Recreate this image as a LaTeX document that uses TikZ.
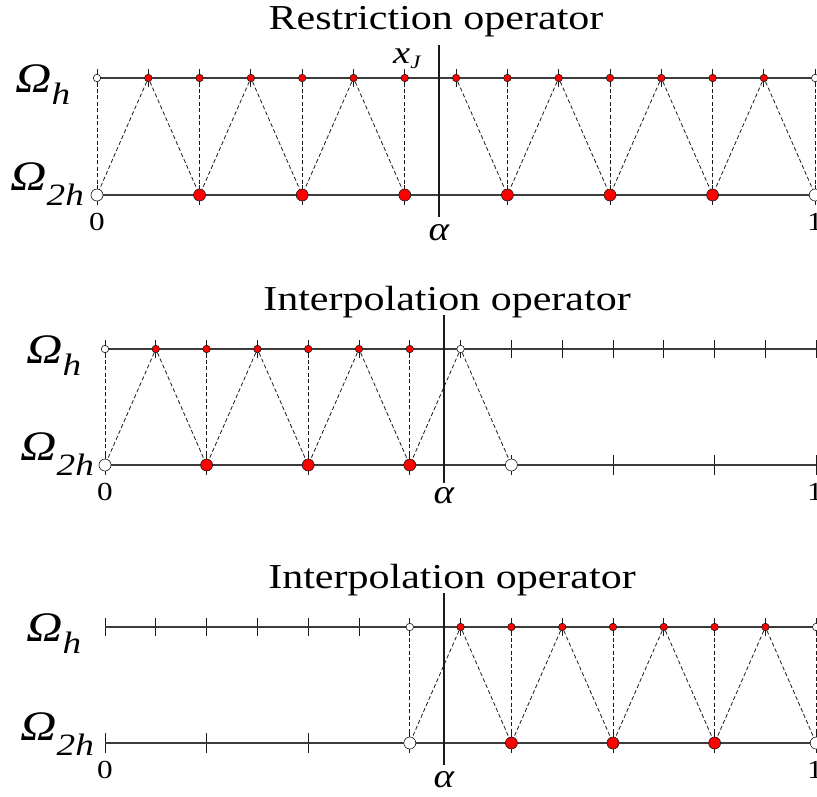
\documentclass[tikz,border=0pt]{standalone}
\usepackage{fontspec}
\setmainfont{Liberation Serif}
\usetikzlibrary{calc}
\definecolor{ink}{HTML}{1A1A1A}
\definecolor{dotred}{HTML}{FF0000}
\tikzset{
  axis/.style={draw=ink!85,line width=1.2pt},
  gridtick/.style={draw=ink,line width=0.9pt},
  ifc/.style={draw=ink,line width=1.5pt},
  link/.style={draw=ink,dash pattern=on 4pt off 2.5pt,line width=0.8pt},
  fdot/.style={circle,draw=ink,line width=0.6pt,fill=dotred,inner sep=0pt,minimum size=7.5pt},
  cdot/.style={circle,draw=ink,line width=0.6pt,fill=dotred,inner sep=0pt,minimum size=12pt},
  fhole/.style={fdot,fill=white},
  chole/.style={cdot,fill=white},
  ttl/.style={font=\fontsize{35}{35}\selectfont,anchor=base,inner sep=0pt,xscale=1.2},
  omlbl/.style={font=\fontsize{42}{42}\selectfont\itshape,anchor=base west,inner sep=0pt,xscale=1.2},
  albl/.style={font=\fontsize{34}{34}\selectfont\itshape,anchor=base,inner sep=0pt,xscale=1.15},
  nlbl/.style={font=\fontsize{26}{26}\selectfont,anchor=base,inner sep=0pt,xscale=1.2}
}
\newcommand{\lowsub}[2]{\raisebox{#1}{\fontsize{31}{31}\selectfont #2}}

\begin{document}
\begin{tikzpicture}[x=1pt,y=-1pt]
  \useasboundingbox (0,0) rectangle (817,796);

  % ---- restriction ----
  \node[ttl] (t1) at (436,29) {Restriction operator};
  \foreach \k in {0,...,14} {
    \coordinate (f1-\k) at ({97+51.3*\k},78);
    \draw[gridtick] ({97+51.3*\k},69) -- ++(0,18);
  }
  \foreach \j in {0,...,7} {
    \coordinate (c1-\j) at ({97+102.6*\j},195);
    \draw[gridtick] ({97+102.6*\j},185) -- ++(0,20);
  }
  \draw[axis] (f1-0) -- (f1-14);
  \draw[axis] (c1-0) -- (c1-7);
  \coordinate (a1top) at (439,45);
  \coordinate (a1bot) at (439,217);
  \draw[ifc] (a1top) -- (a1bot);
  \foreach \k in {1,...,13} \node[fdot] (d1-\k) at (f1-\k) {};
  \node[fhole] (d1-0) at (f1-0) {};
  \node[fhole] (d1-14) at (f1-14) {};
  \foreach \j in {1,...,6} \node[cdot] (e1-\j) at (c1-\j) {};
  \node[chole] (e1-0) at (c1-0) {};
  \node[chole] (e1-7) at (c1-7) {};
  \foreach \j [evaluate=\j as \k using int(2*\j)] in {0,...,7}
    \draw[link] (d1-\k) -- (e1-\j);
  \foreach \k/\l/\r in {1/0/1,3/1/2,5/2/3,9/4/5,11/5/6,13/6/7} {
    \draw[link] (d1-\k) -- (e1-\l);
    \draw[link] (d1-\k) -- (e1-\r);
  }
  \draw[link] (d1-7) -- (e1-4);
  \node[omlbl] (oh1) at (15,92) {Ω\lowsub{-12pt}{h}};
  \node[omlbl] (o2h1) at (10,190) {Ω\lowsub{-15pt}{2h}};
  \node[anchor=base west,inner sep=0pt,xscale=1.2,font=\fontsize{32}{32}\selectfont\itshape] (xj) at (393,63) {x\raisebox{-5pt}{\fontsize{19}{19}\selectfont J}};
  \node[nlbl] (z1) at (97,230) {0};
  \node[nlbl] (u1) at (815,230) {1};
  \node[albl] (al1) at (439,240) {α};

  % ---- interpolation, left part ----
  \node[ttl] (t2) at (447,310) {Interpolation operator};
  \foreach \k in {0,...,14} {
    \coordinate (f2-\k) at ({105+50.8*\k},349);
    \draw[gridtick] ({105+50.8*\k},340) -- ++(0,18);
  }
  \foreach \j in {0,...,7} {
    \coordinate (c2-\j) at ({105+101.6*\j},465);
    \draw[gridtick] ({105+101.6*\j},455) -- ++(0,20);
  }
  \draw[axis] (f2-0) -- (f2-14);
  \draw[axis] (c2-0) -- (c2-7);
  \coordinate (a2top) at (444,315);
  \coordinate (a2bot) at (444,483);
  \draw[ifc] (a2top) -- (a2bot);
  \foreach \k in {1,...,6} \node[fdot] (d2-\k) at (f2-\k) {};
  \node[fhole] (d2-0) at (f2-0) {};
  \node[fhole] (d2-7) at (f2-7) {};
  \foreach \j in {1,...,3} \node[cdot] (e2-\j) at (c2-\j) {};
  \node[chole] (e2-0) at (c2-0) {};
  \node[chole] (e2-4) at (c2-4) {};
  \foreach \j [evaluate=\j as \k using int(2*\j)] in {0,...,3}
    \draw[link] (d2-\k) -- (e2-\j);
  \foreach \k/\l/\r in {1/0/1,3/1/2,5/2/3,7/3/4} {
    \draw[link] (d2-\k) -- (e2-\l);
    \draw[link] (d2-\k) -- (e2-\r);
  }
  \node[omlbl] (oh2) at (26,363) {Ω\lowsub{-12pt}{h}};
  \node[omlbl] (o2h2) at (20,460) {Ω\lowsub{-15pt}{2h}};
  \node[nlbl] (z2) at (105,500) {0};
  \node[nlbl] (u2) at (815,500) {1};
  \node[albl] (al2) at (444,503) {α};

  % ---- interpolation, right part ----
  \node[ttl] (t3) at (452,588) {Interpolation operator};
  \foreach \k in {0,...,14} {
    \coordinate (f3-\k) at ({105+50.8*\k},627);
    \draw[gridtick] ({105+50.8*\k},618) -- ++(0,18);
  }
  \foreach \j in {0,...,7} {
    \coordinate (c3-\j) at ({105+101.6*\j},743);
    \draw[gridtick] ({105+101.6*\j},733) -- ++(0,20);
  }
  \draw[axis] (f3-0) -- (f3-14);
  \draw[axis] (c3-0) -- (c3-7);
  \coordinate (a3top) at (444,593);
  \coordinate (a3bot) at (444,765);
  \draw[ifc] (a3top) -- (a3bot);
  \foreach \k in {7,...,13} \node[fdot] (d3-\k) at (f3-\k) {};
  \node[fhole] (d3-6) at (f3-6) {};
  \node[fhole] (d3-14) at (f3-14) {};
  \foreach \j in {4,...,6} \node[cdot] (e3-\j) at (c3-\j) {};
  \node[chole] (e3-3) at (c3-3) {};
  \node[chole] (e3-7) at (c3-7) {};
  \foreach \j [evaluate=\j as \k using int(2*\j)] in {3,...,7}
    \draw[link] (d3-\k) -- (e3-\j);
  \foreach \k/\l/\r in {7/3/4,9/4/5,11/5/6,13/6/7} {
    \draw[link] (d3-\k) -- (e3-\l);
    \draw[link] (d3-\k) -- (e3-\r);
  }
  \node[omlbl] (oh3) at (26,641) {Ω\lowsub{-12pt}{h}};
  \node[omlbl] (o2h3) at (20,740) {Ω\lowsub{-15pt}{2h}};
  \node[nlbl] (z3) at (105,778) {0};
  \node[nlbl] (u3) at (815,778) {1};
  \node[albl] (al3) at (444,787) {α};
\end{tikzpicture}
\end{document}
